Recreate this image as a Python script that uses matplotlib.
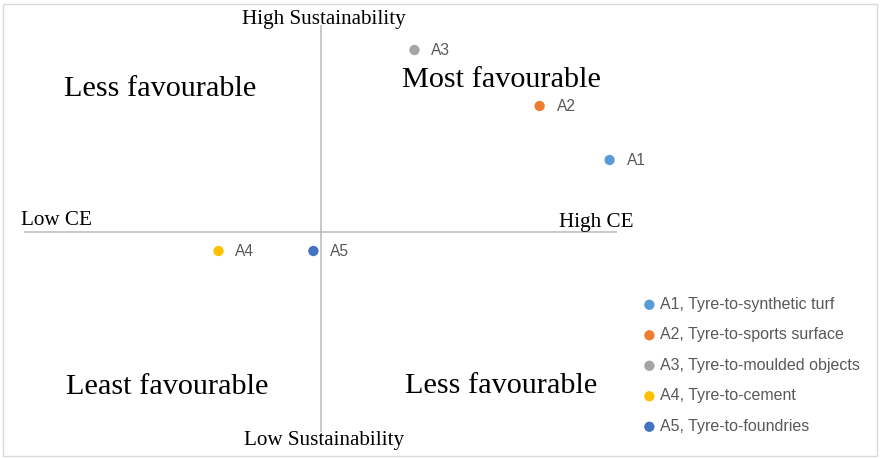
import matplotlib.pyplot as plt
from matplotlib.patches import Rectangle

# Data (axes run -1..1 in CE and sustainability)
codes = ["A1", "A2", "A3", "A4", "A5"]
names = ["Tyre-to-synthetic turf", "Tyre-to-sports surface", "Tyre-to-moulded objects",
         "Tyre-to-cement", "Tyre-to-foundries"]
ce = [0.975, 0.739, 0.317, -0.344, -0.024]
sustainability = [0.36, 0.63, 0.91, -0.095, -0.095]
colors = ["#5B9BD5", "#ED7D31", "#A5A5A5", "#FFC000", "#4472C4"]

W, H = 881, 459
fig = plt.figure(figsize=(W / 100, H / 100), dpi=100)

# axes box set so that the cross lines span like the original
ax = fig.add_axes([24 / W, 1 - 432 / H, (617 - 24) / W, (432 - 25) / H])
ax.set_xlim(-1, 1)
ax.set_ylim(-1, 1.035)
ax.axis("off")
ax.axhline(0, color="#BFBFBF", linewidth=1.2)
ax.axvline(0, color="#BFBFBF", linewidth=1.2)

for c, x, y, n, col in zip(codes, ce, sustainability, names, colors):
    ax.scatter(x, y, s=55, color=col, label=f"{c}, {n}", zorder=3, edgecolors="none")
    ax.annotate(c, (x, y), xytext=(12.2, 0), textcoords="offset points",
                va="center", ha="left", fontsize=11.2, color="#595959",
                family="Liberation Sans")

serif = "Liberation Serif"

def ftext(px, py, s, size):
    # px = left edge, py = baseline, in pixels from top-left
    fig.text(px / W, 1 - py / H, s, fontsize=size, family=serif, color="black",
             ha="left", va="baseline")

ftext(242, 24, "High Sustainability", 15.2)
ftext(244, 445, "Low Sustainability", 15.2)
ftext(21, 225, "Low CE", 15.2)
ftext(559, 227, "High CE", 15.2)
ftext(64, 96, "Less favourable", 21.8)
ftext(402, 87, "Most favourable", 21.8)
ftext(66, 394, "Least favourable", 21.8)
ftext(405, 393, "Less favourable", 21.8)

fig.legend(loc="upper left", bbox_to_anchor=(635 / W, 1 - 289 / H), frameon=False,
           handlelength=0.8, handletextpad=0.25, labelspacing=0.97, borderpad=0,
           prop={"family": "Liberation Sans", "size": 11.5}, labelcolor="#595959")

fig.patches.append(Rectangle((3 / W, 3 / H), 874 / W, 452 / H, transform=fig.transFigure,
                             fill=False, edgecolor="#D9D9D9", linewidth=1))

fig.savefig("out.png", dpi=100)
